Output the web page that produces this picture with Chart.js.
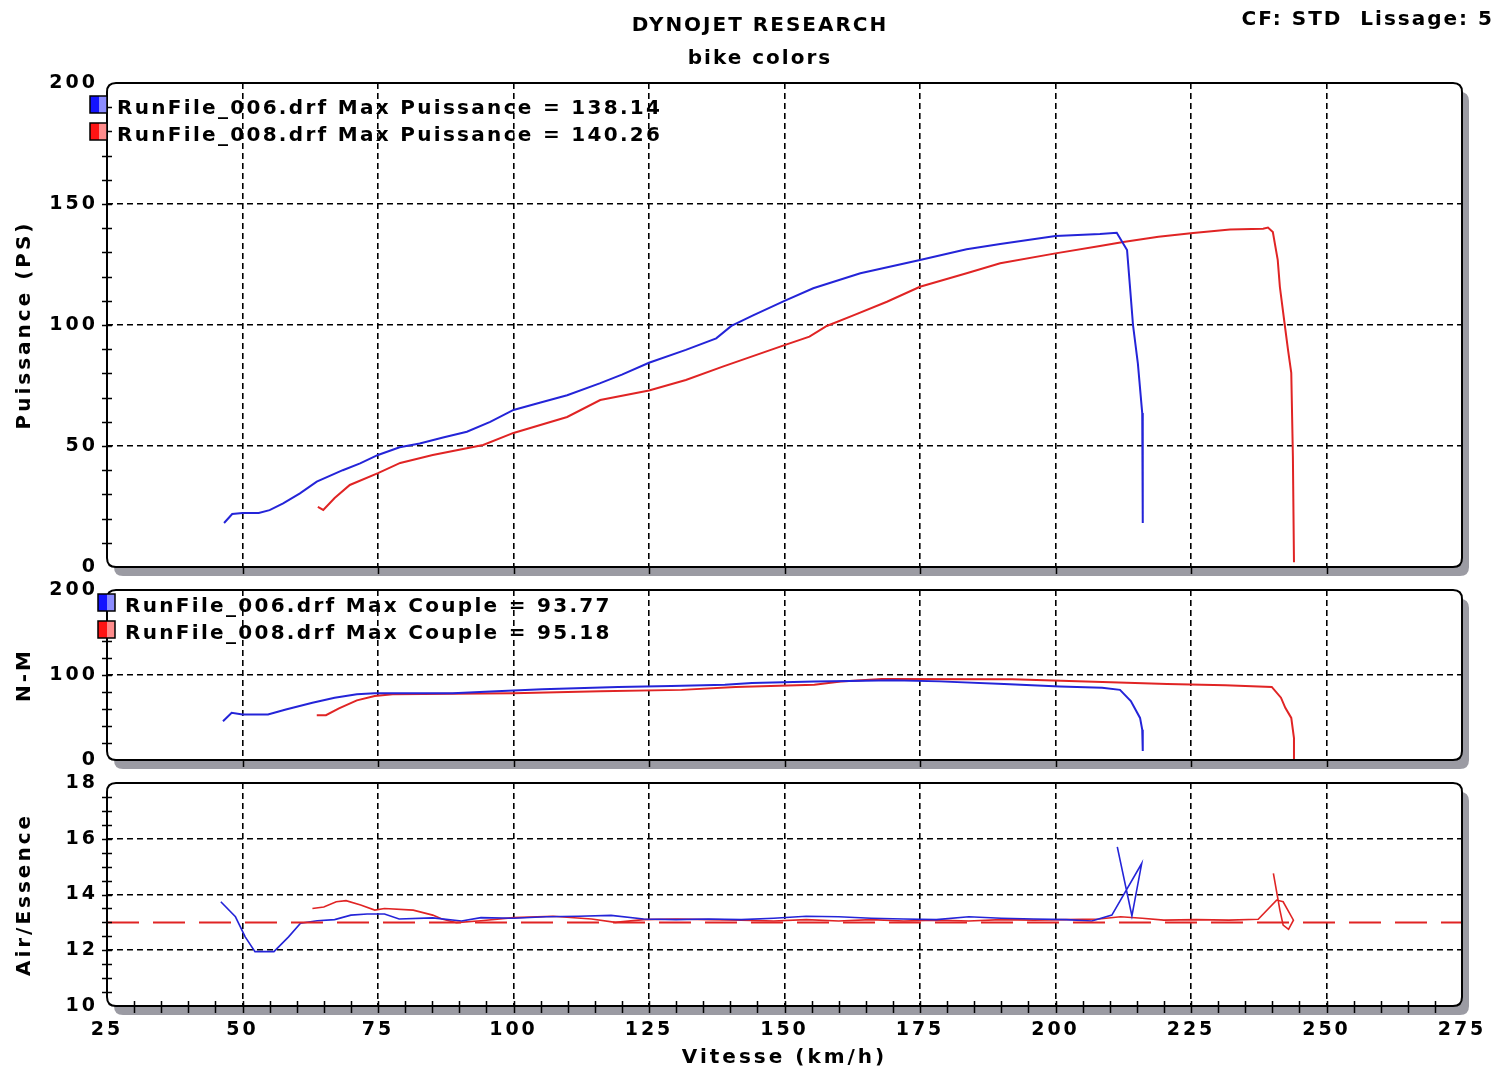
<!DOCTYPE html>
<html>
<head>
<meta charset="utf-8">
<title>Dynojet - bike colors</title>
<script src="https://cdn.jsdelivr.net/npm/chart.js@4.4.0/dist/chart.umd.min.js"></script>
<style>
    html, body { margin: 0; padding: 0; background: #fff; }
    #wrap { position: relative; width: 1506px; height: 1073px; overflow: hidden; }
    canvas { position: absolute; left: 0; }
</style>
</head>
<body>
<div id="wrap">
    <canvas id="powerChart" width="1506" height="592" style="top:0px"></canvas>
    <canvas id="torqueChart" width="1506" height="220" style="top:565px"></canvas>
    <canvas id="afrChart" width="1506" height="315" style="top:758px"></canvas>
</div>
<script>
// Runs
var runNames = ['RunFile_006.drf', 'RunFile_008.drf'];
var maxPuissance = [138.14, 140.26];
var maxCouple = [93.77, 95.18];

// Tick labels
var speedTicks = [25, 50, 75, 100, 125, 150, 175, 200, 225, 250, 275];
var powerTicks = [0, 50, 100, 150, 200];
var torqueTicks = [0, 100, 200];
var afrTicks = [10, 12, 14, 16, 18];

// Puissance (PS) vs vitesse (km/h)
var speed006Pow = [46.6, 48.1, 50, 53, 55, 57.5, 60.6, 63.7, 68.5, 71.7, 75, 79, 82.7, 87, 91.4, 95.7, 100, 105, 109.9, 115.9, 120, 125, 131.8, 137.4, 140.2, 144.2, 150, 155.3, 164, 175, 183.6, 189.8, 200, 208.2, 211.3, 213.2, 213.7, 214.3, 215.2, 216, 216.1];
var power006 = [18.2, 21.9, 22.3, 22.3, 23.5, 26.3, 30.4, 35.3, 40, 42.8, 46.3, 49.5, 51, 53.5, 55.9, 60, 64.9, 68, 71, 75.9, 79.5, 84.4, 89.7, 94.5, 99.6, 104, 110, 115.2, 121.4, 126.9, 131.3, 133.5, 136.8, 137.6, 138.14, 131, 117, 100, 84, 63.6, 18.2];
var speed008Pow = [63.9, 64.9, 67, 69.8, 75, 79.1, 85.1, 94.4, 100, 109.9, 116, 125, 131.8, 138.6, 150, 154.6, 157.8, 162.7, 168.9, 175, 183.6, 189.8, 200, 208.2, 212.5, 219, 225.4, 232.2, 238.3, 239.2, 240.1, 241, 241.4, 242.3, 242.9, 243.5, 243.8, 244];
var power008 = [24.8, 23.6, 28.5, 33.9, 38.8, 43, 46.3, 50.4, 55.4, 62, 69, 72.9, 77.3, 82.8, 91.7, 95.2, 99.6, 104, 109.6, 115.8, 121.4, 125.5, 129.6, 132.6, 134.3, 136.5, 138, 139.5, 139.8, 140.26, 138.4, 126.9, 115.7, 100, 89.7, 80.2, 45.5, 2];

// Couple (N-M)
var speed006Tq = [46.4, 48, 50, 54.7, 58, 62.9, 67, 71.1, 74.4, 88.8, 95.8, 105.3, 119.3, 129.1, 139, 144, 155.5, 162, 170, 178.6, 190.5, 200.8, 208.6, 211.9, 213.9, 215.6, 216, 216.1];
var torque006 = [45.6, 55.5, 53.6, 53.6, 59.5, 67.4, 73.3, 77.4, 78.6, 78.6, 80.5, 83.3, 86, 87, 88.4, 90.5, 92.4, 93, 93.77, 92.5, 89.5, 86.5, 85, 82.5, 69.4, 49.5, 35.7, 10.7];
var speed008Tq = [63.7, 65.4, 67.8, 71.1, 74.4, 77.7, 100, 116, 131, 141, 155.5, 160.4, 168, 192, 201, 210.2, 220.6, 231.3, 239.9, 241.6, 242.4, 243.5, 244, 244];
var torque008 = [52.7, 52.7, 60.7, 70.2, 75.4, 77.4, 78.5, 81, 82.5, 86, 88.5, 92.4, 95.18, 95, 93.2, 91.5, 89.5, 88, 86, 73.3, 61.4, 49.5, 25.7, 0];

// Air/Essence (end of run loops back as the bike slows down)
var speed006Afr = [46, 48.7, 50.5, 52.3, 55.8, 58.5, 60.7, 63.8, 67, 70, 73, 76.2, 78.9, 85.1, 90.4, 94, 100, 106, 112, 118, 124, 130, 136, 142, 148, 154, 160, 166, 172, 178, 184, 190, 196, 202, 206.7, 210.4, 215.9, 214.1, 211.4];
var afr006 = [13.74, 13.2, 12.48, 11.95, 11.95, 12.48, 12.97, 13.06, 13.1, 13.26, 13.3, 13.3, 13.12, 13.16, 13.05, 13.17, 13.15, 13.2, 13.22, 13.25, 13.12, 13.1, 13.12, 13.1, 13.15, 13.22, 13.2, 13.15, 13.12, 13.1, 13.2, 13.15, 13.12, 13.1, 13.05, 13.26, 15.11, 13.23, 15.71];
var speed008Afr = [62.9, 65, 67.3, 69.1, 71.8, 74.4, 76.2, 81.5, 85.1, 86.8, 89.5, 94, 100, 107.3, 114.4, 118.8, 124, 130, 136, 142, 148, 154, 160, 166, 172, 178, 184, 190, 196, 202, 208, 212, 216, 220, 226, 232, 237.4, 240.8, 242, 243.9, 243, 242, 241.4, 240.2];
var afr008 = [13.5, 13.55, 13.74, 13.78, 13.62, 13.44, 13.5, 13.44, 13.26, 13.12, 12.99, 13.06, 13.17, 13.22, 13.12, 13.0, 13.1, 13.12, 13.1, 13.08, 13.05, 13.1, 13.05, 13.1, 13.05, 13.08, 13.05, 13.1, 13.08, 13.1, 13.12, 13.2, 13.15, 13.08, 13.1, 13.08, 13.11, 13.8, 13.74, 13.08, 12.75, 12.9, 13.44, 14.76];
var afrTarget = 13.0;

var FONT = '"DejaVu Sans", Verdana, sans-serif';
var BLUE = '#2424d8';
var RED = '#e02424';

Chart.defaults.font.family = FONT;
Chart.defaults.font.weight = 'bold';
Chart.defaults.font.size = 19;
Chart.defaults.color = '#000';

function pts(xs, ys) {
    return xs.map(function (x, i) { return {x: x, y: ys[i]}; });
}

function roundedBox(ctx, x, y, w, h, r) {
    ctx.beginPath();
    ctx.moveTo(x + r, y);
    ctx.lineTo(x + w - r, y);
    ctx.quadraticCurveTo(x + w, y, x + w, y + r);
    ctx.lineTo(x + w, y + h - r);
    ctx.quadraticCurveTo(x + w, y + h, x + w - r, y + h);
    ctx.lineTo(x + r, y + h);
    ctx.quadraticCurveTo(x, y + h, x, y + h - r);
    ctx.lineTo(x, y + r);
    ctx.quadraticCurveTo(x, y, x + r, y);
    ctx.closePath();
}

// hide the grid line on the panel edges, the frame is drawn there
function gridColor(c) {
    if (c.tick && (c.tick.value === c.scale.min || c.tick.value === c.scale.max)) {
        return 'rgba(0,0,0,0)';
    }
    return '#000';
}

function setTicks(list) {
    return function (scale) {
        scale.ticks = list.map(function (v) { return {value: v}; });
    };
}

// panel frame, shadow, minor ticks and legend
function panelPlugin(o) {
    return {
        id: 'panel',
        beforeDraw: function (chart) {
            var ctx = chart.ctx, a = chart.chartArea;
            var w = a.right - a.left, h = a.bottom - a.top;
            ctx.letterSpacing = '3px';
            ctx.save();
            ctx.fillStyle = '#9b9ba3';
            roundedBox(ctx, a.left + 7, a.top + 9, w, h, 9);
            ctx.fill();
            ctx.fillStyle = '#fff';
            roundedBox(ctx, a.left, a.top, w, h, 9);
            ctx.fill();
            ctx.restore();
        },
        afterDraw: function (chart) {
            var ctx = chart.ctx, a = chart.chartArea;
            var xs = chart.scales.x, ys = chart.scales.y;
            var v;
            ctx.save();
            ctx.strokeStyle = '#000';
            ctx.lineWidth = 2;
            roundedBox(ctx, a.left, a.top, a.right - a.left, a.bottom - a.top, 9);
            ctx.stroke();

            ctx.lineWidth = 1.5;
            ctx.beginPath();
            for (v = ys.min + o.yMinor; v < ys.max - 1e-6; v += o.yMinor) {
                var py = Math.round(ys.getPixelForValue(v)) + 0.5;
                ctx.moveTo(a.left - 5, py);
                ctx.lineTo(a.left + 5, py);
            }
            for (v = xs.min + o.xMinor; v < xs.max - 1e-6; v += o.xMinor) {
                var px = Math.round(xs.getPixelForValue(v)) + 0.5;
                ctx.moveTo(px, a.bottom - o.xTickUp);
                ctx.lineTo(px, a.bottom + 7);
            }
            ctx.stroke();

            ctx.letterSpacing = '2.3px';
            ctx.font = 'bold 20px ' + FONT;
            ctx.textBaseline = 'middle';

            // legend
            if (o.legend) {
                var shades = {};
                shades[BLUE] = ['#1414ff', '#8c8cff'];
                shades[RED] = ['#ff1414', '#ff8c8c'];
                chart.data.datasets.forEach(function (ds, i) {
                    var bx = a.left + o.legend.boxDx, by = a.top + o.legend.dy + i * 27;
                    var g = ctx.createLinearGradient(bx, 0, bx + 17, 0);
                    g.addColorStop(0, shades[ds.borderColor][0]);
                    g.addColorStop(0.55, shades[ds.borderColor][0]);
                    g.addColorStop(0.55, shades[ds.borderColor][1]);
                    g.addColorStop(1, shades[ds.borderColor][1]);
                    ctx.fillStyle = g;
                    ctx.fillRect(bx, by, 17, 17);
                    ctx.strokeStyle = '#000';
                    ctx.lineWidth = 1.5;
                    ctx.strokeRect(bx, by, 17, 17);
                    ctx.fillStyle = '#000';
                    ctx.textAlign = 'left';
                    ctx.fillText(ds.label, a.left + o.legend.textDx, by + 13);
                });
            }

            // header
            if (o.header) {
                ctx.letterSpacing = '2px';
                ctx.textAlign = 'center';
                ctx.fillText('DYNOJET RESEARCH', 760, 26);
                ctx.fillText('bike colors', 760, 59);
                ctx.textAlign = 'right';
                ctx.fillText('CF: STD  Lissage: 5', 1494, 20);
            }
            ctx.restore();
        }
    };
}

function makeChart(id, datasets, o) {
    return new Chart(document.getElementById(id), {
        type: 'line',
        data: {datasets: datasets},
        options: {
            responsive: false,
            animation: false,
            events: [],
            layout: {padding: o.padding},
            plugins: {legend: {display: false}, tooltip: {enabled: false}},
            elements: {
                point: {radius: 0},
                line: {borderWidth: 2, tension: 0}
            },
            scales: {
                x: {
                    type: 'linear',
                    min: 25,
                    max: 275,
                    afterBuildTicks: setTicks(speedTicks),
                    ticks: {display: o.xLabels, padding: 13, maxRotation: 0, autoSkip: false},
                    grid: {color: gridColor, lineWidth: 1.6, drawTicks: false},
                    border: {display: false, dash: [6, 4]},
                    title: {
                        display: o.xLabels,
                        text: 'Vitesse (km/h)',
                        font: {size: 20},
                        padding: {top: 0, bottom: 3}
                    },
                    afterFit: function (scale) { scale.height = o.xLabels ? 67 : 0; }
                },
                y: {
                    type: 'linear',
                    min: o.yTicks[0],
                    max: o.yTicks[o.yTicks.length - 1],
                    afterBuildTicks: setTicks(o.yTicks),
                    ticks: {padding: 9},
                    grid: {color: gridColor, lineWidth: 1.6, drawTicks: false},
                    border: {display: false, dash: [6, 4]},
                    title: {
                        display: true,
                        text: o.yTitle,
                        font: {size: 20},
                        padding: {top: 13, bottom: 0}
                    },
                    afterFit: function (scale) { scale.width = 107; }
                }
            }
        },
        plugins: [panelPlugin(o)]
    });
}

// Puissance
var powerChart = makeChart('powerChart', [
    {label: runNames[0] + ' Max Puissance = ' + maxPuissance[0].toFixed(2), data: pts(speed006Pow, power006), borderColor: BLUE},
    {label: runNames[1] + ' Max Puissance = ' + maxPuissance[1].toFixed(2), data: pts(speed008Pow, power008), borderColor: RED}
], {
    padding: {top: 83, bottom: 25, left: 0, right: 44},
    yTicks: powerTicks, yTitle: 'Puissance (PS)', yMinor: 10,
    xLabels: false, xMinor: 25, xTickUp: 0,
    legend: {boxDx: -17, textDx: 10, dy: 13},
    header: true
});

// Couple
var torqueChart = makeChart('torqueChart', [
    {label: runNames[0] + ' Max Couple = ' + maxCouple[0].toFixed(2), data: pts(speed006Tq, torque006), borderColor: BLUE},
    {label: runNames[1] + ' Max Couple = ' + maxCouple[1].toFixed(2), data: pts(speed008Tq, torque008), borderColor: RED}
], {
    padding: {top: 25, bottom: 25, left: 0, right: 44},
    yTicks: torqueTicks, yTitle: 'N-M', yMinor: 20,
    xLabels: false, xMinor: 25, xTickUp: 0,
    legend: {boxDx: -9, textDx: 18, dy: 4}
});

// Air/Essence
var afrChart = makeChart('afrChart', [
    {label: 'AFR 13.0', data: pts([25, 275], [afrTarget, afrTarget]), borderColor: RED, borderDash: [32, 14]},
    {label: runNames[0], data: pts(speed006Afr, afr006), borderColor: BLUE, borderWidth: 1.6},
    {label: runNames[1], data: pts(speed008Afr, afr008), borderColor: RED, borderWidth: 1.6}
], {
    padding: {top: 25, bottom: 0, left: 0, right: 44},
    yTicks: afrTicks, yTitle: 'Air/Essence', yMinor: 0.5,
    xLabels: true, xMinor: 5, xTickUp: 5
});
</script>
</body>
</html>
